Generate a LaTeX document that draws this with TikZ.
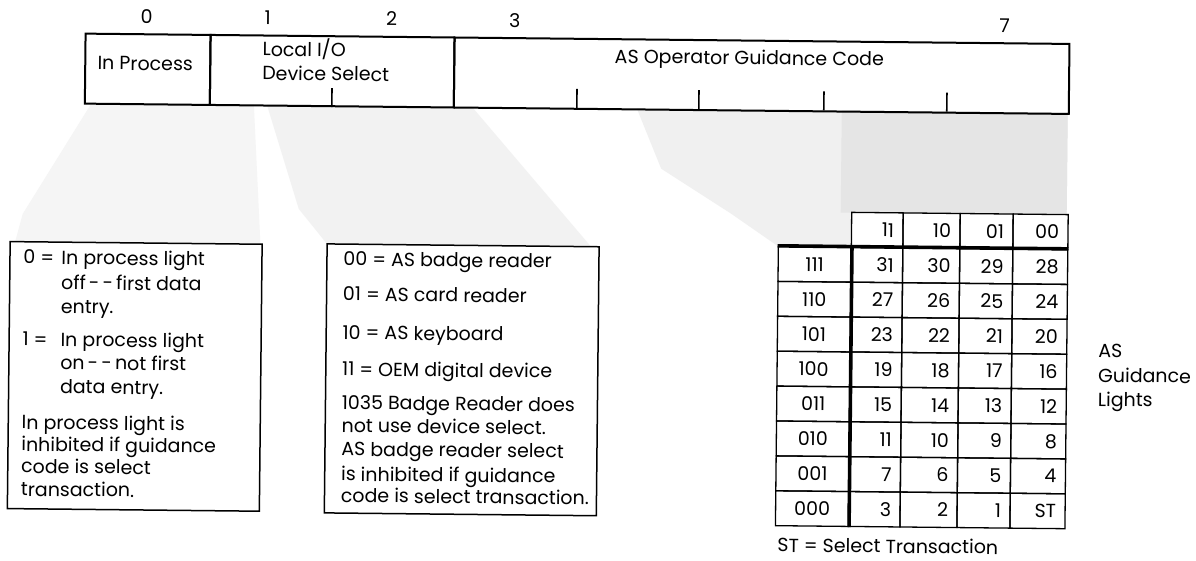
\documentclass[tikz,border=0pt]{standalone}
\usepackage{fontspec}
\setmainfont{Poppins}
\begin{document}
\begin{tikzpicture}[x=1pt,y=-1pt,
  txt/.style={inner sep=0pt, font=\fontsize{19}{23}\selectfont},
  lb/.style={txt, anchor=base west},
  cb/.style={txt, anchor=base},
  field/.style={draw, line width=2pt, inner sep=0pt, anchor=north west, minimum height=70pt},
  tickmark/.style={line width=1.6pt},
  notebox/.style={draw, line width=1.5pt, inner sep=0pt, anchor=north west},
  cell/.style={draw, line width=1.3pt, inner sep=0pt, minimum height=34.9pt, txt},
  thickrule/.style={line width=3.6pt},
  stippleA/.style={fill=black!4},
  stippleB/.style={fill=black!5},
  stippleC/.style={fill=black!6},
  stippleD/.style={fill=black!10}]
\path[fill=white, use as bounding box] (0,0) rectangle (1196,560);
\begin{scope}[rotate around={-0.6:(598,280)}, transform shape]
% stippled projections
\fill[stippleA] (90,108) -- (252,108) -- (260,247) -- (15,247) -- (22,220) -- cycle;
\fill[stippleB] (265,108) -- (470,108) -- (590,246) -- (326,246) -- (298,212) -- cycle;
\fill[stippleC] (635,108) -- (1066,108) -- (1066,210) -- (851,210) -- (851,244.6) -- (778,244.6) -- (730,212) -- (660,168) -- cycle;
\fill[stippleD] (840,108) -- (1066,108) -- (1066,210) -- (840,210) -- cycle;

% register
\node[field, minimum width=125pt] (f0) at (82,38) {};
\node[field, minimum width=244pt] (f12) at (207,38) {};
\node[field, minimum width=615pt] (f37) at (451,38) {};
\draw[tickmark] (f12.south) -- ++(0,-19);
\foreach \t in {575,697,822,945} \draw[tickmark] (\t,108) -- (\t,89);
\node[cb] (b0) at (144,28) {0};
\node[cb] (b1) at (265,28) {1};
\node[cb] (b2) at (389,28) {2};
\node[cb] (b3) at (512,28) {3};
\node[cb] (b7) at (1002,28) {7};
\node[cb] (t0) at (143,75) {In Process};
\node[lb] (t1) at (260,59.5) {Local I/O};
\node[lb] (t2) at (260,83.5) {Device Select};
\node[cb] (t3) at (747,63) {AS Operator Guidance Code};

% left note box
\node[notebox, minimum width=252pt, minimum height=267pt] (lbox) at (9,247) {};
\node[lb] (l1) at (23,270) {0 =};
\node[lb] (l2) at (61,270) {In process light};
\node[lb] (l3) at (61,295) {off\,-\,-\,first data};
\node[lb] (l4) at (61,319) {entry.};
\node[lb] (l5) at (23,352) {1 =};
\node[lb] (l6) at (61,352) {In process light};
\node[lb] (l7) at (61,375) {on\,-\,-\,not first};
\node[lb] (l8) at (61,399) {data entry.};
\node[lb] (l9) at (23,435) {In process light is};
\node[lb] (l10) at (23,457) {inhibited if guidance};
\node[lb] (l11) at (23,479) {code is select};
\node[lb] (l12) at (23,502) {transaction.};

% middle note box
\node[notebox, minimum width=272pt, minimum height=269pt] (mbox) at (326,246) {};
\node[lb] (m1) at (343,268.5) {00 = AS badge reader};
\node[lb] (m2) at (343,303.5) {01 = AS card reader};
\node[lb] (m3) at (343,342) {10 = AS keyboard};
\node[lb] (m4) at (343,378.5) {11 = OEM digital device};
\node[lb] (m5) at (343,412) {1035 Badge Reader does};
\node[lb] (m6) at (343,435) {not use device select.};
\node[lb] (m7) at (343,458.5) {AS badge reader select};
\node[lb] (m8) at (343,483.5) {is inhibited if guidance};
\node[lb] (m9) at (343,505) {code is select transaction.};

% guidance lights table
\foreach \c/\xl/\w/\h in {0/851/51.5/11, 1/902.5/57/10, 2/959.5/53/01, 3/1012.5/55/00} {
  \pgfmathsetmacro\tw{\w-18}
  \pgfmathsetmacro\xc{\xl+\w/2}
  \node[cell, text width=\tw pt, align=right, inner xsep=9pt] (h\c) at (\xc,227.15) {\h};
  \foreach \k in {0,...,7} {
    \pgfmathsetmacro\yc{262.05+34.9*\k}
    \pgfmathtruncatemacro\v{4*(7-\k)+3-\c}
    \node[cell, text width=\tw pt, align=right, inner xsep=9pt] (c\k\c) at (\xc,\yc) {\ifnum\v=0 ST\else\v\fi};
  }
}
\foreach \k/\lab in {0/111,1/110,2/101,3/100,4/011,5/010,6/001,7/000} {
  \pgfmathsetmacro\yc{262.05+34.9*\k}
  \node[cell, minimum width=73pt] (r\k) at (814.5,\yc) {\lab};
}
\draw[thickrule] (r0.north west) -- (c03.north east);
\draw[thickrule] (r0.north east) -- (r7.south east);
\node[lb] (st) at (780,550) {ST = Select Transaction};
\node[lb] (g1) at (1099,352) {AS};
\node[lb] (g2) at (1099,377) {Guidance};
\node[lb] (g3) at (1099,401) {Lights};
\end{scope}
\end{tikzpicture}
\end{document}
